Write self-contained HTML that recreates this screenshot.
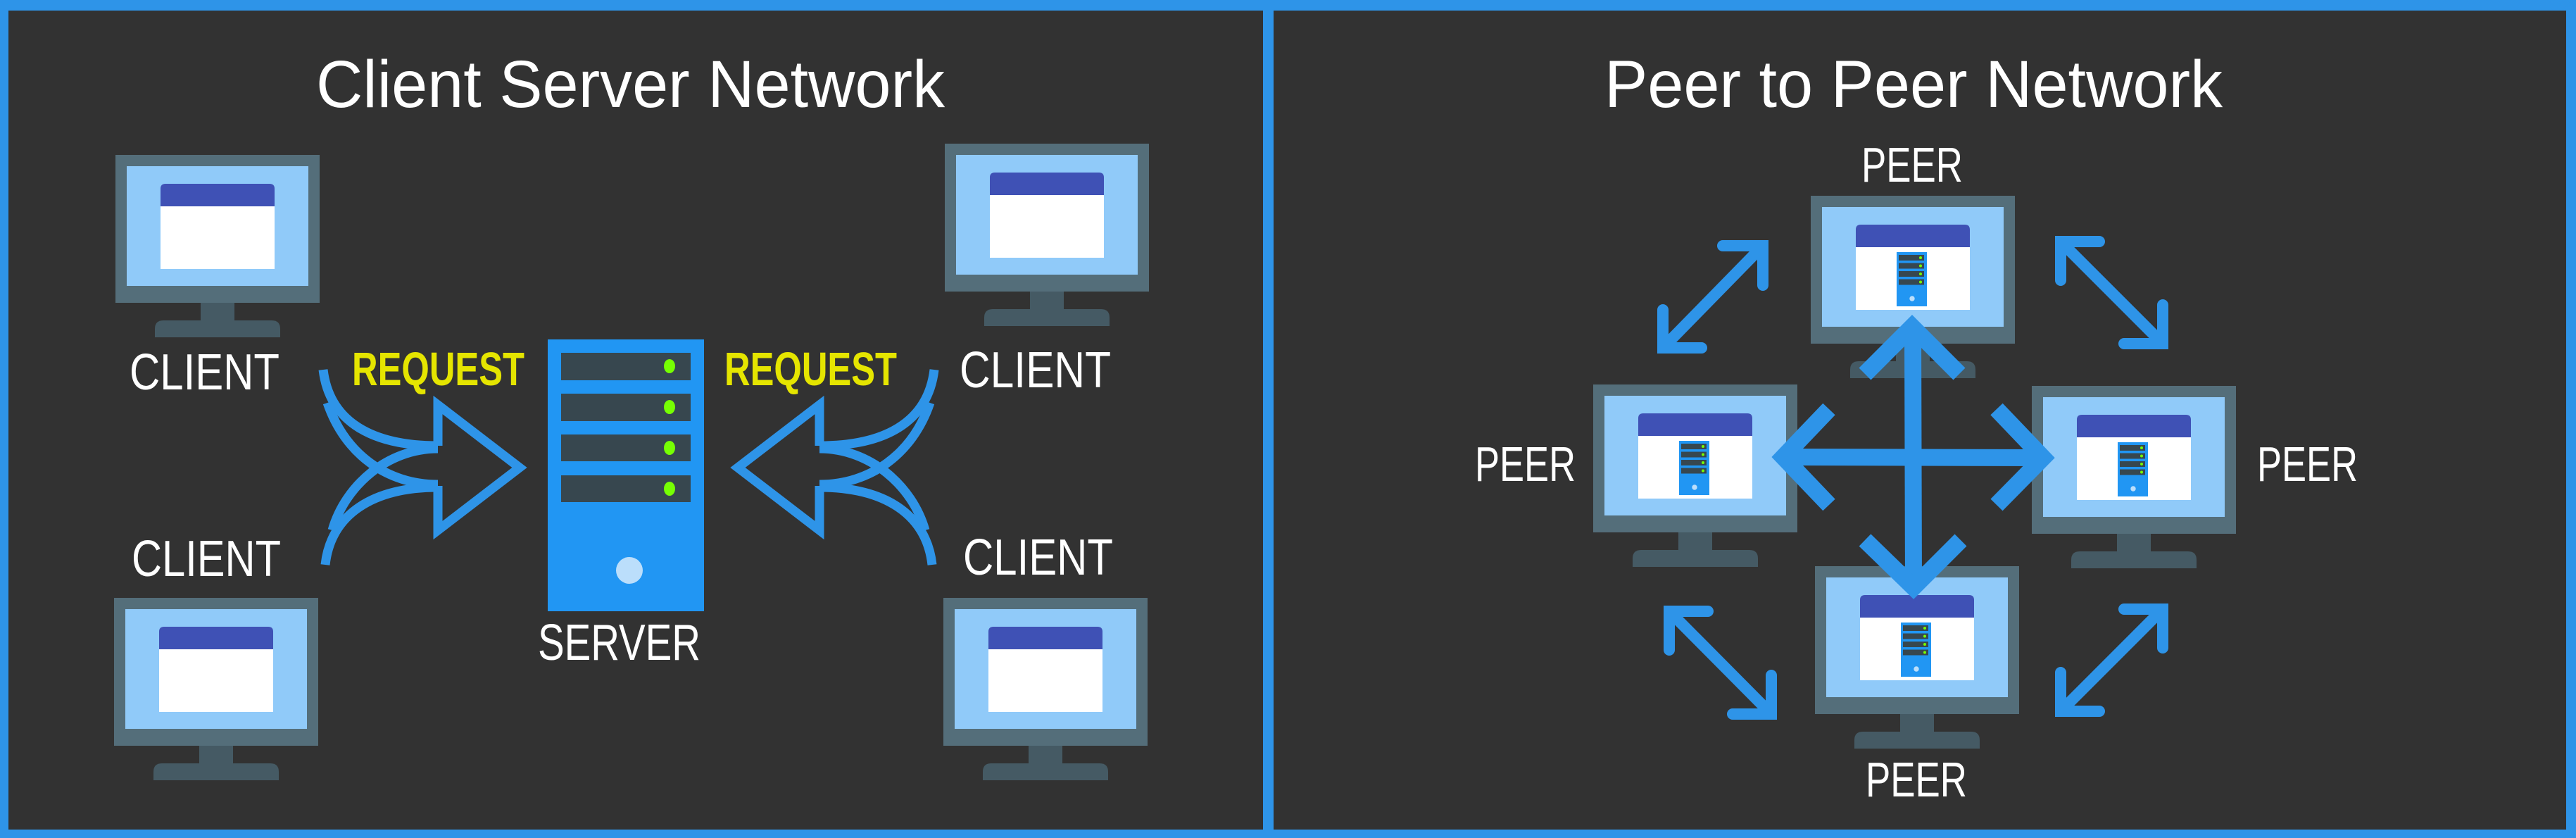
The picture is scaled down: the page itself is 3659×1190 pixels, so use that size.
<!DOCTYPE html>
<html><head><meta charset="utf-8"><style>
html,body{margin:0;padding:0;background:#2e94e8;}
svg{display:block}
text{font-family:"Liberation Sans",sans-serif;fill:#fff}
</style></head><body>
<svg width="3659" height="1190" viewBox="0 0 3659 1190" xmlns="http://www.w3.org/2000/svg">
<defs>
<g id="mon">
<rect x="0" y="0" width="290" height="210" fill="#546e7a"/>
<rect x="16" y="16" width="258" height="170" fill="#90caf9"/>
<path d="M64,73 V48 Q64,41 71,41 H219 Q226,41 226,48 V73 Z" fill="#3f51b5"/>
<rect x="64" y="73" width="162" height="89" fill="#fff"/>
<rect x="121" y="210" width="48" height="25" fill="#455a64"/>
<path d="M56,259 V247 Q56,235 68,235 H222 Q234,235 234,247 V259 Z" fill="#455a64"/>
</g>
<g id="mini">
<rect x="122" y="80" width="43" height="77" fill="#2196f3"/>
<rect x="125" y="84" width="36" height="8" fill="#37474f"/>
<rect x="125" y="95.5" width="36" height="8" fill="#37474f"/>
<rect x="125" y="107" width="36" height="8" fill="#37474f"/>
<rect x="125" y="118.5" width="36" height="8" fill="#37474f"/>
<circle cx="156" cy="88" r="2" fill="#76ff03"/>
<circle cx="156" cy="99.5" r="2" fill="#76ff03"/>
<circle cx="156" cy="111" r="2" fill="#76ff03"/>
<circle cx="156" cy="122.5" r="2" fill="#76ff03"/>
<circle cx="144" cy="146" r="3.7" fill="#bbdefb"/>
</g>
<g id="peer"><use href="#mon"/><use href="#mini"/></g>
<g id="carrow" fill="none" stroke="#2e94e8" stroke-width="13">
<polyline points="622,633 622,575 738,664 622,753 622,690" stroke-linejoin="miter"/>
<path d="M459,525 C468,600 530,633 622,633"/>
<path d="M465,572 C490,645 550,688 622,688"/>
<path d="M462,802 C470,730 530,692 622,692"/>
<path d="M472,753 C490,690 550,637 622,637"/>
</g>
</defs>
<rect x="12" y="15" width="1782" height="1163" fill="#323232"/>
<rect x="1809" y="15" width="1836" height="1163" fill="#323232"/>

<!-- Left panel -->
<text x="449" y="152" font-size="95" textLength="893" lengthAdjust="spacingAndGlyphs">Client Server Network</text>
<use href="#mon" x="164" y="220" transform="scale(1)"/>
<use href="#mon" x="1342" y="204"/>
<use href="#mon" x="162" y="849"/>
<use href="#mon" x="1340" y="849"/>
<text x="184" y="553" font-size="72" textLength="213" lengthAdjust="spacingAndGlyphs">CLIENT</text>
<text x="1363" y="550" font-size="72" textLength="215" lengthAdjust="spacingAndGlyphs">CLIENT</text>
<text x="187" y="818" font-size="72" textLength="212" lengthAdjust="spacingAndGlyphs">CLIENT</text>
<text x="1368" y="816" font-size="72" textLength="213" lengthAdjust="spacingAndGlyphs">CLIENT</text>
<text x="500" y="547" font-size="67" font-weight="bold" style="fill:#e5e500" textLength="245" lengthAdjust="spacingAndGlyphs">REQUEST</text>
<text x="1029" y="547" font-size="67" font-weight="bold" style="fill:#e5e500" textLength="245" lengthAdjust="spacingAndGlyphs">REQUEST</text>
<rect x="778" y="482" width="222" height="386" fill="#2196f3"/>
<rect x="797" y="501" width="184" height="39" fill="#37474f"/>
<rect x="797" y="559" width="184" height="39" fill="#37474f"/>
<rect x="797" y="617" width="184" height="38" fill="#37474f"/>
<rect x="797" y="675" width="184" height="38" fill="#37474f"/>
<ellipse cx="951" cy="520" rx="8" ry="10" fill="#76ff03"/>
<ellipse cx="951" cy="578" rx="8" ry="10" fill="#76ff03"/>
<ellipse cx="951" cy="636" rx="8" ry="10" fill="#76ff03"/>
<ellipse cx="951" cy="694" rx="8" ry="10" fill="#76ff03"/>
<circle cx="894" cy="810" r="19" fill="#bbdefb"/>
<text x="764" y="937" font-size="72" textLength="231" lengthAdjust="spacingAndGlyphs">SERVER</text>
<use href="#carrow"/>
<g transform="translate(1786,0) scale(-1,1)"><use href="#carrow"/></g>

<!-- Right panel -->
<text x="2279" y="152" font-size="95" textLength="878" lengthAdjust="spacingAndGlyphs">Peer to Peer Network</text>
<use href="#peer" x="2572" y="278"/>
<use href="#peer" x="2263" y="546"/>
<use href="#peer" x="2886" y="548"/>
<use href="#peer" x="2578" y="804"/>
<text x="2644" y="258" font-size="70" textLength="144" lengthAdjust="spacingAndGlyphs">PEER</text>
<text x="2095" y="683" font-size="70" textLength="143" lengthAdjust="spacingAndGlyphs">PEER</text>
<text x="3206" y="683" font-size="70" textLength="143" lengthAdjust="spacingAndGlyphs">PEER</text>
<text x="2650" y="1131" font-size="70" textLength="144" lengthAdjust="spacingAndGlyphs">PEER</text>

<g fill="none" stroke="#2e94e8" stroke-width="24" stroke-linejoin="miter" stroke-linecap="butt">
<line x1="2717" y1="465" x2="2718" y2="835"/>
<line x1="2530" y1="649" x2="2905" y2="650"/>
<polyline points="2649,531 2716,464 2783,531"/>
<polyline points="2598,581 2533,649 2598,717"/>
<polyline points="2836,581 2902,650 2836,717"/>
<polyline points="2649,767 2718,834 2785,767"/>
</g>
<g fill="none" stroke="#2e94e8" stroke-width="16" stroke-linejoin="miter" stroke-linecap="round">
<line x1="2504" y1="349" x2="2362" y2="494"/>
<polyline points="2447,349 2504,349 2504,405"/>
<polyline points="2362,440 2362,494 2417,494"/>
<line x1="2927" y1="343" x2="3072" y2="488"/>
<polyline points="2982,343 2927,343 2927,398"/>
<polyline points="3072,433 3072,488 3017,488"/>
<line x1="2371" y1="868" x2="2516" y2="1014"/>
<polyline points="2426,868 2371,868 2371,923"/>
<polyline points="2516,959 2516,1014 2461,1014"/>
<line x1="3072" y1="865" x2="2927" y2="1010"/>
<polyline points="3017,865 3072,865 3072,920"/>
<polyline points="2927,955 2927,1010 2982,1010"/>
</g>
</svg>
</body></html>
